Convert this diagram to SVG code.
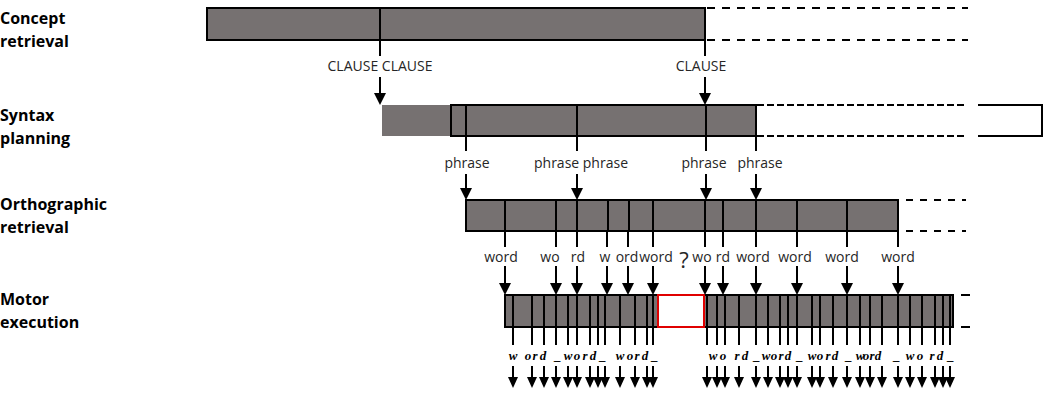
<svg xmlns="http://www.w3.org/2000/svg" xmlns:xlink="http://www.w3.org/1999/xlink" width="1043" height="393" viewBox="0 0 1043 393">
  <style>
    .bar { fill: #767171; stroke: #000; stroke-width: 2; }
    .fill { fill: #767171; }
    .div { stroke: #000; stroke-width: 2; }
    .dash { stroke: #000; stroke-width: 2; fill: none; }
    .ln { stroke: #000; stroke-width: 2; fill: none; }
    .hd { font-family: "Open Sans", "Liberation Sans", sans-serif; font-weight: bold; font-size: 16px; fill: #000; }
    .lbl { font-family: "Open Sans", "Liberation Sans", sans-serif; font-size: 14px; fill: #262626; text-anchor: middle; }
    .q { font-family: "Open Sans", "Liberation Sans", sans-serif; font-size: 22px; fill: #262626; text-anchor: middle; }
    .key { font-family: "Liberation Serif", serif; font-weight: bold; font-style: italic; font-size: 13px; fill: #000; text-anchor: middle; }
  </style>
  <defs>
    <path id="ah" d="M-6,-12 L6,-12 L0,0 Z" fill="#000"/>
    <path id="ahs" d="M-5,-11 L5,-11 L0,0 Z" fill="#000"/>
  </defs>

  <rect width="1043" height="393" fill="#fff"/>

  <!-- stage headings -->
  <g id="headings">
    <text class="hd" x="0" y="24">Concept</text>
    <text class="hd" x="0" y="47">retrieval</text>
    <text class="hd" x="0" y="121">Syntax</text>
    <text class="hd" x="0" y="144">planning</text>
    <text class="hd" x="0" y="210">Orthographic</text>
    <text class="hd" x="0" y="233">retrieval</text>
    <text class="hd" x="0" y="305">Motor</text>
    <text class="hd" x="0" y="328">execution</text>
  </g>

  <!-- concept retrieval -->
  <g id="concept">
    <rect class="bar" x="207" y="8" width="498" height="32"/>
    <line class="div" x1="380" y1="8" x2="380" y2="40"/>
    <line class="dash" x1="705" y1="8" x2="968" y2="8" stroke-dasharray="8 7" stroke-dashoffset="-2"/>
    <line class="dash" x1="705" y1="40" x2="968" y2="40" stroke-dasharray="8 7" stroke-dashoffset="-2"/>
  </g>

  <!-- syntax planning -->
  <g id="syntax">
    <rect class="fill" x="382" y="105" width="69" height="31"/>
    <rect class="bar" x="451" y="105" width="305" height="31"/>
    <line class="div" x1="466" y1="105" x2="466" y2="136"/>
    <line class="div" x1="577" y1="105" x2="577" y2="136"/>
    <line class="div" x1="706" y1="105" x2="706" y2="136"/>
    <line class="dash" x1="757" y1="105" x2="967" y2="105" stroke-dasharray="7 3"/>
    <line class="dash" x1="757" y1="136" x2="967" y2="136" stroke-dasharray="7 3"/>
    <path class="ln" d="M978,105 H1042 V136 H978"/>
  </g>

  <!-- orthographic retrieval -->
  <g id="orthographic">
    <rect class="bar" x="466" y="200" width="432" height="31"/>
    <path class="div" d="M505,200V231 M556,200V231 M577,200V231 M608,200V231 M629,200V231 M653,200V231 M705,200V231 M723,200V231 M756,200V231 M797,200V231 M847,200V231"/>
    <line class="dash" x1="898" y1="200" x2="966" y2="200" stroke-dasharray="7 7" stroke-dashoffset="-8"/>
    <line class="dash" x1="898" y1="231" x2="966" y2="231" stroke-dasharray="7 7" stroke-dashoffset="-8"/>
  </g>

  <!-- motor execution -->
  <g id="motor">
    <rect class="bar" x="505" y="295" width="153" height="32"/>
    <rect class="bar" x="704" y="295" width="249" height="32"/>
    <rect x="658" y="295" width="46" height="32" fill="#fff" stroke="#e00000" stroke-width="2"/>
    <line class="dash" x1="961" y1="295" x2="970" y2="295"/>
    <line class="dash" x1="961" y1="327" x2="970" y2="327"/>
  </g>

  <!-- connectors -->
  <g id="connectors">
    <!-- concept to syntax -->
    <path class="ln" d="M380,40V56 M380,77V93 M705,40V56 M705,77V93"/>
    <use xlink:href="#ah" x="380" y="105"/>
    <use xlink:href="#ah" x="705" y="105"/>
    <text class="lbl" x="380" y="71">CLAUSE CLAUSE</text>
    <text class="lbl" x="701" y="71">CLAUSE</text>

    <!-- syntax to orthographic -->
    <path class="ln" d="M466,136V151 M466,174V188 M577,136V151 M577,174V188 M706,136V151 M706,174V188 M756,136V151 M756,174V188"/>
    <use xlink:href="#ah" x="466" y="200"/>
    <use xlink:href="#ah" x="577" y="200"/>
    <use xlink:href="#ah" x="706" y="200"/>
    <use xlink:href="#ah" x="756" y="200"/>
    <text class="lbl" x="467" y="168">phrase</text>
    <text class="lbl" x="581" y="168">phrase phrase</text>
    <text class="lbl" x="704" y="168">phrase</text>
    <text class="lbl" x="760" y="168">phrase</text>

    <!-- orthographic to motor -->
    <path class="ln" d="M505,231V247 M505,266V283 M556,231V247 M556,266V283 M577,231V247 M577,266V283 M607,231V247 M607,266V283 M628,231V247 M628,266V283 M653,231V247 M653,266V283 M705,231V247 M705,266V283 M723,231V247 M723,266V283 M756,231V247 M756,266V283 M797,231V247 M797,266V283 M847,231V247 M847,266V283 M898,231V247 M898,266V283"/>
    <use xlink:href="#ah" x="505" y="295"/>
    <use xlink:href="#ah" x="556" y="295"/>
    <use xlink:href="#ah" x="577" y="295"/>
    <use xlink:href="#ah" x="607" y="295"/>
    <use xlink:href="#ah" x="628" y="295"/>
    <use xlink:href="#ah" x="653" y="295"/>
    <use xlink:href="#ah" x="705" y="295"/>
    <use xlink:href="#ah" x="723" y="295"/>
    <use xlink:href="#ah" x="756" y="295"/>
    <use xlink:href="#ah" x="797" y="295"/>
    <use xlink:href="#ah" x="847" y="295"/>
    <use xlink:href="#ah" x="898" y="295"/>
    <text class="lbl" x="501" y="262">word</text>
    <text class="lbl" x="550" y="262">wo</text>
    <text class="lbl" x="578" y="262">rd</text>
    <text class="lbl" x="605" y="262">w</text>
    <text class="lbl" x="627" y="262">ord</text>
    <text class="lbl" x="656" y="262">word</text>
    <text class="q" x="684" y="268">?</text>
    <text class="lbl" x="702" y="262">wo</text>
    <text class="lbl" x="723" y="262">rd</text>
    <text class="lbl" x="753" y="262">word</text>
    <text class="lbl" x="795" y="262">word</text>
    <text class="lbl" x="842" y="262">word</text>
    <text class="lbl" x="898" y="262">word</text>

    <!-- keystroke lines through the motor bar -->
    <path class="ln" d="M513,295V345 M532,295V345 M544,295V345 M556,295V345 M568,295V345 M577,295V345 M590,295V345 M598,295V345 M605,295V345 M620,295V345 M635,295V345 M647,295V345 M653,295V345"/>
    <path class="ln" d="M707,295V345 M717,295V345 M725,295V345 M739,295V345 M756,295V345 M768,295V345 M780,295V345 M788,295V345 M797,295V345 M812,295V345 M820,295V345 M833,295V345 M847,295V345 M860,295V345 M870,295V345 M882,295V345 M898,295V345 M910,295V345 M922,295V345 M935,295V345 M943,295V345 M950,295V345"/>

    <!-- typed characters -->
    <text class="key" x="513 528 535 543 558 568 577 585 593 603 620 630 637 645 655" y="360">word_word_word_</text>
    <text class="key" x="713 723 737 745 757 766 774 781 788 800 812 820 828 835 849 860 866 872 878 897 910 920 932 940 951" y="360">word_word_word_word_word_</text>

    <!-- keystroke output arrows -->
    <path class="ln" d="M513,366V378 M532,366V378 M544,366V378 M556,366V378 M568,366V378 M577,366V378 M590,366V378 M598,366V378 M605,366V378 M620,366V378 M635,366V378 M647,366V378 M653,366V378"/>
    <path class="ln" d="M707,366V378 M717,366V378 M725,366V378 M739,366V378 M756,366V378 M768,366V378 M780,366V378 M788,366V378 M797,366V378 M812,366V378 M820,366V378 M833,366V378 M847,366V378 M860,366V378 M870,366V378 M882,366V378 M898,366V378 M910,366V378 M922,366V378 M935,366V378 M943,366V378 M950,366V378"/>
    <g>
      <use xlink:href="#ahs" x="513" y="388"/><use xlink:href="#ahs" x="532" y="388"/><use xlink:href="#ahs" x="544" y="388"/>
      <use xlink:href="#ahs" x="556" y="388"/><use xlink:href="#ahs" x="568" y="388"/><use xlink:href="#ahs" x="577" y="388"/>
      <use xlink:href="#ahs" x="590" y="388"/><use xlink:href="#ahs" x="598" y="388"/><use xlink:href="#ahs" x="605" y="388"/>
      <use xlink:href="#ahs" x="620" y="388"/><use xlink:href="#ahs" x="635" y="388"/><use xlink:href="#ahs" x="647" y="388"/>
      <use xlink:href="#ahs" x="653" y="388"/>
      <use xlink:href="#ahs" x="707" y="388"/><use xlink:href="#ahs" x="717" y="388"/><use xlink:href="#ahs" x="725" y="388"/>
      <use xlink:href="#ahs" x="739" y="388"/><use xlink:href="#ahs" x="756" y="388"/><use xlink:href="#ahs" x="768" y="388"/>
      <use xlink:href="#ahs" x="780" y="388"/><use xlink:href="#ahs" x="788" y="388"/><use xlink:href="#ahs" x="797" y="388"/>
      <use xlink:href="#ahs" x="812" y="388"/><use xlink:href="#ahs" x="820" y="388"/><use xlink:href="#ahs" x="833" y="388"/>
      <use xlink:href="#ahs" x="847" y="388"/><use xlink:href="#ahs" x="860" y="388"/><use xlink:href="#ahs" x="870" y="388"/>
      <use xlink:href="#ahs" x="882" y="388"/><use xlink:href="#ahs" x="898" y="388"/><use xlink:href="#ahs" x="910" y="388"/>
      <use xlink:href="#ahs" x="922" y="388"/><use xlink:href="#ahs" x="935" y="388"/><use xlink:href="#ahs" x="943" y="388"/>
      <use xlink:href="#ahs" x="950" y="388"/>
    </g>
  </g>
</svg>
